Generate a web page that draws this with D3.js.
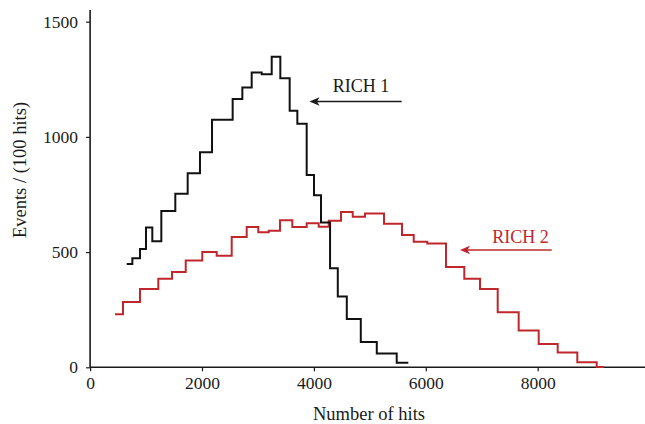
<!DOCTYPE html>
<html>
<head>
<meta charset="utf-8">
<script src="https://cdn.jsdelivr.net/npm/d3@7/dist/d3.min.js"></script>
<style>
  html, body { margin: 0; padding: 0; background: #fff; }
  svg { display: block; }
  text { font-family: "Liberation Serif", "Times New Roman", serif; }
</style>
</head>
<body>
<svg id="chart" width="645" height="424"></svg>
<script>
// Hit-multiplicity histograms for the two RICH detectors.
// Bin edges (number of hits) and event counts per bin.
const rich1Edges = [654, 755, 892, 999, 1112, 1273, 1523, 1744, 1964, 2179, 2548, 2721, 2888, 3067,
  3246, 3400, 3567, 3704, 3871, 4002, 4127, 4289, 4427, 4588, 4838, 5124, 5480, 5687];
const rich1Counts = [448, 473, 513, 607, 547, 678, 753, 842, 933, 1074, 1164, 1214, 1279, 1272,
  1348, 1255, 1114, 1057, 835, 747, 629, 430, 307, 210, 110, 60, 20];

const rich2Edges = [445, 588, 892, 1219, 1464, 1709, 2005, 2263, 2531, 2799, 3006, 3192, 3394, 3614,
  3871, 4086, 4265, 4484, 4694, 4913, 5253, 5575, 5784, 6027, 6361, 6688, 6969, 7285, 7660,
  8018, 8357, 8708, 9055, 9185];
const rich2Counts = [230, 283, 340, 384, 414, 464, 500, 484, 565, 609, 586, 593, 638, 609, 625,
  610, 636, 674, 653, 667, 623, 574, 545, 537, 435, 384, 340, 239, 160, 101, 64, 22, 1];

const xTicks = [0, 2000, 4000, 6000, 8000];
const yTicks = [0, 500, 1000, 1500];

const svg = d3.select("#chart");

const x = d3.scaleLinear().domain([0, 10000]).range([90.1, 649.6]);
const y = d3.scaleLinear().domain([0, 1500]).range([367.3, 21.7]);

const ink = "#1a1a1a";
const red = "#c0272d";

// Axes
const xAxis = svg.append("g")
  .attr("transform", `translate(0,${y(0)})`)
  .call(d3.axisBottom(x).tickValues(xTicks).tickSize(4).tickSizeOuter(0).tickPadding(5)
    .tickFormat(d3.format("d")));
xAxis.select(".domain").attr("d", `M${x(0)},0H645`);

const yAxis = svg.append("g")
  .attr("transform", `translate(${x(0)},0)`)
  .call(d3.axisLeft(y).tickValues(yTicks).tickSize(4).tickSizeOuter(0).tickPadding(8)
    .tickFormat(d3.format("d")));
yAxis.select(".domain").attr("d", `M0,10V${y(0)}`);

svg.selectAll(".domain").attr("stroke", ink).attr("stroke-width", 1.6);
svg.selectAll(".tick line").attr("stroke", ink).attr("stroke-width", 1.2);
svg.selectAll(".tick text").attr("font-size", 17.5).attr("fill", ink)
  .style("font-family", "'Liberation Serif', serif");

// Axis titles
svg.append("text")
  .attr("x", 369).attr("y", 420)
  .attr("text-anchor", "middle").attr("font-size", 18.5).attr("fill", ink)
  .text("Number of hits");

svg.append("text")
  .attr("transform", `translate(26,170) rotate(-90)`)
  .attr("text-anchor", "middle").attr("font-size", 18.5).attr("fill", ink)
  .text("Events / (100 hits)");

// Step outlines
function stepPoints(edges, counts) {
  const pts = counts.map((c, i) => [edges[i], c]);
  pts.push([edges[edges.length - 1], counts[counts.length - 1]]);
  return pts;
}
const step = d3.line().x(d => x(d[0])).y(d => y(d[1])).curve(d3.curveStepAfter);

svg.append("path")
  .datum(stepPoints(rich2Edges, rich2Counts))
  .attr("d", step).attr("fill", "none")
  .attr("stroke", red).attr("stroke-width", 2);

svg.append("path")
  .datum(stepPoints(rich1Edges, rich1Counts))
  .attr("d", step).attr("fill", "none")
  .attr("stroke", "#111").attr("stroke-width", 2);

// Left-pointing arrow: shaft plus a notched head at the tip
function arrow(tipX, tailX, yPos, color) {
  svg.append("line")
    .attr("x1", tipX + 4).attr("y1", yPos).attr("x2", tailX).attr("y2", yPos)
    .attr("stroke", color).attr("stroke-width", 1.3);
  svg.append("path")
    .attr("d", `M${tipX},${yPos}L${tipX + 10},${yPos - 4.2}L${tipX + 7.5},${yPos}L${tipX + 10},${yPos + 4.2}Z`)
    .attr("fill", color);
}

// Detector labels with arrows
svg.append("text")
  .attr("x", 361).attr("y", 92).attr("text-anchor", "middle")
  .attr("font-size", 18).attr("fill", ink).text("RICH 1");
arrow(309.5, 401.7, 101.5, ink);

svg.append("text")
  .attr("x", 520.5).attr("y", 243).attr("text-anchor", "middle")
  .attr("font-size", 18).attr("fill", red).text("RICH 2");
arrow(460, 551.7, 250, red);
</script>
</body>
</html>
